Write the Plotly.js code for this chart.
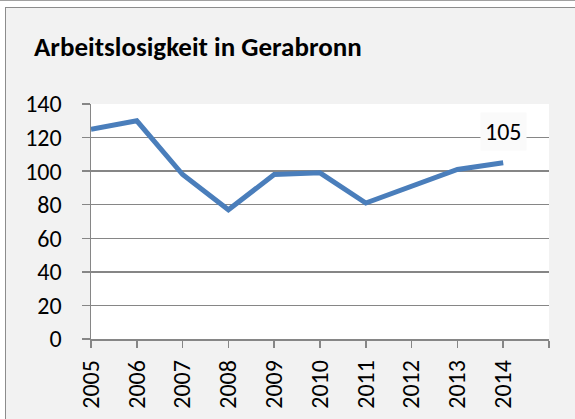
<!DOCTYPE html>
<html>
<head>
<meta charset="utf-8">
<script src="https://cdn.plot.ly/plotly-3.0.1.min.js"></script>
<style>
html,body{margin:0;padding:0;background:#fff;}
#wrap{position:absolute;left:0;top:0;width:575px;height:419px;overflow:hidden;}
#topline{position:absolute;left:0;top:0;width:575px;height:1px;background:#a0a0a0;}
#frame{position:absolute;left:5px;top:7px;width:580px;height:420px;border:1px solid #8c8c8c;background:#f2f2f2;box-sizing:border-box;}
#chart{position:absolute;left:0;top:0;width:575px;height:419px;}
</style>
</head>
<body>
<div id="wrap">
<div id="topline"></div>
<div id="frame"></div>
<div id="chart"></div>
</div>
<script>
const years = [2005, 2006, 2007, 2008, 2009, 2010, 2011, 2012, 2013, 2014];
const values = [125, 130, 98, 77, 98, 99, 81, 91, 101, 105];
const xTickVals = [2005, 2006, 2007, 2008, 2009, 2010, 2011, 2012, 2013, 2014, 2015];
const xTickText = ['2005', '2006', '2007', '2008', '2009', '2010', '2011', '2012', '2013', '2014', ''];
const yTickVals = [0, 20, 40, 60, 80, 100, 120, 140];

const font = 'Carlito, Lato, "Liberation Sans", sans-serif';

Plotly.newPlot('chart', [{
  x: years,
  y: values,
  type: 'scatter',
  mode: 'lines',
  line: {color: '#4a7ebb', width: 5},
  hoverinfo: 'none'
}], {
  width: 575,
  height: 419,
  margin: {l: 91, r: 26, t: 104, b: 80, pad: 0},
  paper_bgcolor: 'rgba(0,0,0,0)',
  plot_bgcolor: '#ffffff',
  showlegend: false,
  title: {
    text: '<b>Arbeitslosigkeit in Gerabronn</b>',
    font: {family: font, size: 27, color: '#000'},
    x: 34/575, xanchor: 'left', xref: 'container',
    y: 1 - 47/419, yanchor: 'middle', yref: 'container'
  },
  xaxis: {
    range: [2005, 2015],
    tickmode: 'array',
    tickvals: xTickVals,
    ticktext: xTickText,
    tickangle: -90,
    ticks: 'outside',
    ticklen: 7,
    tickwidth: 1.5,
    tickcolor: '#868686',
    showline: true,
    linecolor: '#868686',
    linewidth: 1.5,
    showgrid: false,
    zeroline: false,
    ticklabelposition: 'outside',
    ticklabelstandoff: 3,
    tickfont: {family: font, size: 24, color: '#000'},
    fixedrange: true
  },
  yaxis: {
    range: [0, 140],
    tickmode: 'array',
    tickvals: yTickVals,
    ticks: 'outside',
    ticklen: 8,
    tickwidth: 1.5,
    tickcolor: '#868686',
    showline: true,
    linecolor: '#868686',
    linewidth: 1.5,
    showgrid: true,
    gridcolor: '#868686',
    gridwidth: 1.5,
    zeroline: false,
    ticklabelposition: 'outside',
    ticklabelstandoff: 15,
    tickfont: {family: font, size: 24, color: '#000'},
    fixedrange: true
  },
  annotations: [{
    x: years[years.length - 1],
    y: values[values.length - 1],
    xref: 'x', yref: 'y',
    text: String(values[values.length - 1]),
    showarrow: false,
    yshift: 31,
    bgcolor: '#fafafa',
    borderpad: 4,
    font: {family: font, size: 24, color: '#000'}
  }]
}, {staticPlot: true, displayModeBar: false});
</script>
</body>
</html>
